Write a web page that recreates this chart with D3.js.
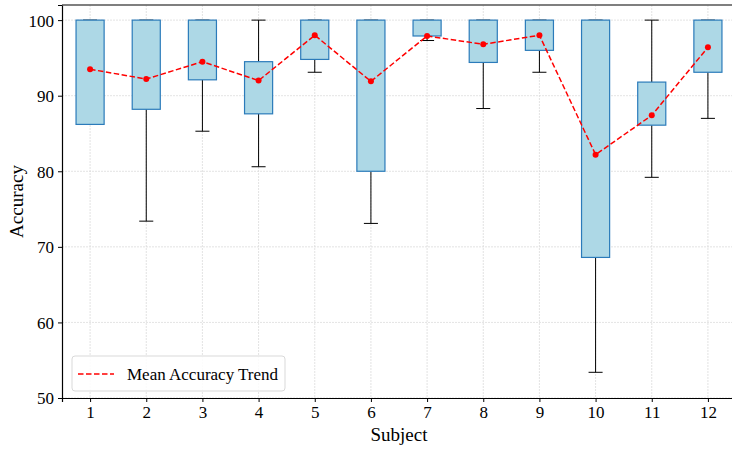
<!DOCTYPE html>
<html>
<head>
<meta charset="utf-8">
<script src="https://cdn.jsdelivr.net/npm/d3@7"></script>
<style>
  body { margin: 0; background: #fff; }
  svg { font-family: "Liberation Serif", "Times New Roman", serif; }
</style>
</head>
<body>
<div id="chart"></div>
<script>
// data
const subjects = [1, 2, 3, 4, 5, 6, 7, 8, 9, 10, 11, 12];
const whiskerLow = [86.2, 73.4, 85.3, 80.6, 93.1, 73.1, 97.3, 88.3, 93.1, 53.4, 79.2, 87.0];
const q1 = [86.2, 88.2, 92.1, 87.6, 94.8, 80.0, 97.9, 94.4, 96.0, 68.6, 86.1, 93.1];
const q3 = [100, 100, 100, 94.5, 100, 100, 100, 100, 100, 100, 91.8, 100];
const whiskerHigh = [100, 100, 100, 100, 100, 100, 100, 100, 100, 100, 100, 100];
const meanAcc = [93.5, 92.2, 94.5, 92.0, 98.0, 91.9, 97.9, 96.8, 98.0, 82.2, 87.4, 96.4];
const yTicks = [50, 60, 70, 80, 90, 100];

const width = 732, height = 449;
const margin = {top: 5, right: -4, bottom: 51, left: 62};

const svg = d3.select("#chart").append("svg")
  .attr("width", width)
  .attr("height", height);

const x = d3.scaleLinear().domain([0.5, 12.5]).range([margin.left, width - margin.right]);
const y = d3.scaleLinear().domain([50, 102]).range([height - margin.bottom, margin.top]);

// gridlines
svg.append("g").selectAll("line.gx")
  .data(subjects).enter().append("line")
  .attr("x1", d => x(d)).attr("x2", d => x(d))
  .attr("y1", margin.top).attr("y2", height - margin.bottom)
  .attr("stroke", "#dcdcdc").attr("stroke-dasharray", "2,1").attr("stroke-width", 0.8);
svg.append("g").selectAll("line.gy")
  .data(yTicks).enter().append("line")
  .attr("x1", margin.left).attr("x2", width)
  .attr("y1", d => y(d)).attr("y2", d => y(d))
  .attr("stroke", "#dcdcdc").attr("stroke-dasharray", "2,1").attr("stroke-width", 0.8);

const boxes = subjects.map((s, i) => ({
  s: s, lo: whiskerLow[i], q1: q1[i], q3: q3[i], hi: whiskerHigh[i]
}));
const halfW = 0.25;

const g = svg.append("g");
// whiskers
g.selectAll("line.wl").data(boxes).enter().append("line")
  .attr("x1", d => x(d.s)).attr("x2", d => x(d.s))
  .attr("y1", d => y(d.q1)).attr("y2", d => y(d.lo))
  .attr("stroke", "#000").attr("stroke-width", 1);
g.selectAll("line.wh").data(boxes).enter().append("line")
  .attr("x1", d => x(d.s)).attr("x2", d => x(d.s))
  .attr("y1", d => y(d.q3)).attr("y2", d => y(d.hi))
  .attr("stroke", "#000").attr("stroke-width", 1);
// caps
g.selectAll("line.cl").data(boxes).enter().append("line")
  .attr("x1", d => x(d.s - halfW / 2)).attr("x2", d => x(d.s + halfW / 2))
  .attr("y1", d => y(d.lo)).attr("y2", d => y(d.lo))
  .attr("stroke", "#000").attr("stroke-width", 1);
g.selectAll("line.ch").data(boxes).enter().append("line")
  .attr("x1", d => x(d.s - halfW / 2)).attr("x2", d => x(d.s + halfW / 2))
  .attr("y1", d => y(d.hi)).attr("y2", d => y(d.hi))
  .attr("stroke", "#000").attr("stroke-width", 1);
// boxes
g.selectAll("rect.box").data(boxes).enter().append("rect")
  .attr("x", d => x(d.s - halfW))
  .attr("width", d => x(d.s + halfW) - x(d.s - halfW))
  .attr("y", d => y(d.q3))
  .attr("height", d => y(d.q1) - y(d.q3))
  .attr("fill", "#add8e6")
  .attr("stroke", "#2b7bba").attr("stroke-width", 1.2);

// mean trend
const line = d3.line().x((d, i) => x(subjects[i])).y(d => y(d));
svg.append("path").datum(meanAcc)
  .attr("d", line)
  .attr("fill", "none").attr("stroke", "#ff0000")
  .attr("stroke-width", 1.5).attr("stroke-dasharray", "5.5,2.5");
svg.selectAll("circle.mean").data(meanAcc).enter().append("circle")
  .attr("cx", (d, i) => x(subjects[i])).attr("cy", d => y(d))
  .attr("r", 3).attr("fill", "#ff0000");

// axes
const xAxis = svg.append("g")
  .attr("transform", "translate(0," + (height - margin.bottom) + ")")
  .call(d3.axisBottom(x).tickValues(subjects).tickSize(4).tickPadding(4).tickFormat(d3.format("d")));
const yAxis = svg.append("g")
  .attr("transform", "translate(" + margin.left + ",0)")
  .call(d3.axisLeft(y).tickValues(yTicks).tickSize(4).tickPadding(4));
[xAxis, yAxis].forEach(a => {
  a.selectAll("text").attr("font-size", 17).attr("fill", "#000")
    .attr("font-family", "Liberation Serif, serif");
  a.selectAll("line").attr("stroke", "#000");
  a.select(".domain").attr("stroke", "#000").attr("stroke-width", 1.2);
});
yAxis.selectAll("text").attr("dy", "0.35em");

// top spine
svg.append("line")
  .attr("x1", margin.left).attr("x2", width)
  .attr("y1", margin.top).attr("y2", margin.top)
  .attr("stroke", "#555").attr("stroke-width", 1.5);

// axis titles
svg.append("text")
  .attr("x", x(6.5)).attr("y", 441)
  .attr("text-anchor", "middle").attr("font-size", 19)
  .text("Subject");
svg.append("text")
  .attr("transform", "translate(23," + ((margin.top + height - margin.bottom) / 2) + ") rotate(-90)")
  .attr("text-anchor", "middle").attr("font-size", 19)
  .text("Accuracy");

// legend
const leg = svg.append("g").attr("transform", "translate(72,356)");
leg.append("rect")
  .attr("width", 213).attr("height", 35).attr("rx", 3)
  .attr("fill", "#fff").attr("fill-opacity", 0.85)
  .attr("stroke", "#d9d9d9").attr("stroke-width", 1);
leg.append("line")
  .attr("x1", 6).attr("x2", 42).attr("y1", 18).attr("y2", 18)
  .attr("stroke", "#ff0000").attr("stroke-width", 1.5).attr("stroke-dasharray", "5.5,2.5");
leg.append("text")
  .attr("x", 55).attr("y", 24).attr("font-size", 17)
  .text("Mean Accuracy Trend");
</script>
</body>
</html>
